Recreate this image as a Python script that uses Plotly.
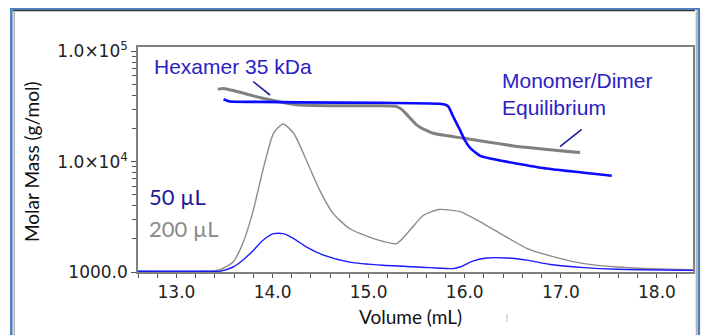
import plotly.graph_objects as go

# ---------------- data ----------------
# Molar mass, 200 uL injection (grey)
mm200_vol = [13.43, 13.49, 13.59, 13.80, 13.97, 14.11, 14.28, 14.80, 15.12, 15.29,
             15.35, 15.40, 15.50, 15.60, 15.67, 15.99, 16.51, 17.20]
mm200_val = [45500, 46100, 44200, 39500, 36400, 34400, 32700, 32100, 32100, 31600,
             29500, 26600, 21600, 19200, 18100, 16300, 13900, 12100]

# Molar mass, 50 uL injection (blue)
mm50_vol = [13.49, 13.56, 13.87, 14.28, 15.12, 15.74, 15.80, 15.83, 15.88, 15.95, 16.00,
            16.06, 16.16, 16.33, 16.85, 17.53]
mm50_val = [36900, 35100, 34900, 34500, 34200, 33500, 32800, 31600, 25600, 19400, 15700,
            13200, 11300, 10400, 8670, 7460]

# Concentration trace (scaled), 200 uL (grey)
c200_vol = [12.60, 13.31, 13.45, 13.59, 13.69, 13.80, 13.90, 14.01, 14.11, 14.22,
            14.35, 14.49, 14.63, 14.80, 15.05, 15.29, 15.43, 15.57, 15.73, 15.85,
            15.96, 16.13, 16.37, 16.65, 16.96, 17.24, 17.58, 17.93, 18.38]
c200_val = [1015, 1015, 1050, 1233, 1810, 3640, 8410, 18100, 22000, 18100,
            10400, 5530, 3400, 2480, 2010, 1810, 2400, 3270, 3690, 3640,
            3510, 2950, 2230, 1630, 1350, 1190, 1110, 1074, 1050]

# Concentration trace (scaled), 50 uL (blue)
c50_vol = [12.60, 13.31, 13.45, 13.59, 13.69, 13.80, 13.90, 14.01, 14.11, 14.22,
           14.35, 14.53, 14.80, 15.15, 15.64, 15.88, 15.95, 16.09, 16.23, 16.44,
           16.65, 16.89, 17.24, 17.58, 18.38]
c50_val = [1015, 1015, 1015, 1110, 1280, 1570, 1940, 2230, 2230, 2010,
           1690, 1420, 1230, 1150, 1096, 1074, 1110, 1260, 1340, 1340,
           1280, 1170, 1096, 1059, 1035]

y_tickvals = [1000, 10000, 100000]
y_ticktext = ["1000.0", "1.0×10<sup>4</sup>", "1.0×10<sup>5</sup>"]
y_minor = [m * 10 ** e for e in (3, 4) for m in range(2, 10)]

# ---------------- layout helpers (pixel -> paper) ----------------
W, H = 701, 335
L, R, T, B = 138, 8, 47, 63
PW, PH = W - L - R, H - T - B


def px(x):
    return (x - L) / PW


def py(y):
    return (T + PH - y) / PH


BLUE = "#1a1aff"
GREY = "#808080"
fig = go.Figure()

fig.add_trace(go.Scatter(x=c200_vol, y=c200_val, mode="lines",
                         line=dict(color="#8c8c8c", width=1.4, shape="spline", smoothing=0.6),
                         hoverinfo="skip"))
fig.add_trace(go.Scatter(x=c50_vol, y=c50_val, mode="lines",
                         line=dict(color=BLUE, width=1.4, shape="spline", smoothing=0.6),
                         hoverinfo="skip"))
fig.add_trace(go.Scatter(x=mm200_vol, y=mm200_val, mode="lines",
                         line=dict(color=GREY, width=3, shape="spline", smoothing=0.5),
                         hoverinfo="skip"))
fig.add_trace(go.Scatter(x=mm50_vol, y=mm50_val, mode="lines",
                         line=dict(color="#0a0aff", width=2.6, shape="spline", smoothing=0.4),
                         hoverinfo="skip"))

tickfont = dict(family="DejaVu Sans", size=17, color="#222222")

fig.update_layout(
    width=W, height=H,
    margin=dict(l=L, r=R, t=T, b=B, pad=0, autoexpand=False),
    paper_bgcolor="white", plot_bgcolor="white",
    showlegend=False,
    xaxis=dict(range=[12.6, 18.375], tick0=13, dtick=1, tickformat=".1f",
               ticks="outside", ticklen=4, tickcolor="#555", tickwidth=1,
               showline=True, linecolor="#808080", linewidth=1.5, mirror=True,
               showgrid=False, zeroline=False, tickfont=tickfont,
               minor=dict(dtick=0.2, ticks="outside", ticklen=4, tickcolor="#555")),
    yaxis=dict(type="log", range=[3, 5.04], tickmode="array",
               tickvals=y_tickvals, ticktext=y_ticktext,
               ticks="outside", ticklen=5, tickcolor="#555", tickwidth=1,
               showline=True, linecolor="#808080", linewidth=1.5, mirror=True,
               showgrid=False, zeroline=False, tickfont=tickfont,
               minor=dict(tickmode="array", tickvals=y_minor, ticks="outside",
                          ticklen=4, tickcolor="#555")),
)

ann_blue = "#2b21c4"
anns = [
    dict(text="Hexamer 35 kDa", x=px(152), y=py(66.5), xanchor="left", yanchor="middle",
         font=dict(family="Liberation Sans", size=21, color=ann_blue)),
    dict(text="Monomer/Dimer<br>Equilibrium", x=px(500), y=py(94), xanchor="left",
         yanchor="middle", align="left",
         font=dict(family="Liberation Sans", size=21, color=ann_blue)),
    dict(text="50 µL", x=px(147), y=py(196), xanchor="left", yanchor="middle",
         font=dict(family="Lato", size=22, color="#1a1a99")),
    dict(text="200 µL", x=px(147), y=py(228.5), xanchor="left", yanchor="middle",
         font=dict(family="Lato", size=22, color="#8a8a8a")),
    dict(text="Volume (mL)", x=px(410.5), y=py(316.5), xanchor="center", yanchor="middle",
         font=dict(family="Lato", size=19, color="#111111")),
    dict(text="Molar Mass (g/mol)", x=px(31), y=py(162), xanchor="center", yanchor="middle",
         textangle=-90, font=dict(family="Lato", size=19, color="#111111")),
]
for a in anns:
    a.update(xref="paper", yref="paper", showarrow=False)
fig.update_layout(annotations=anns)


def seg(x0, y0, x1, y1, color, width):
    return dict(type="line", xref="paper", yref="paper",
                x0=px(x0), y0=py(y0), x1=px(x1), y1=py(y1),
                line=dict(color=color, width=width), layer="above")


shapes = [
    # pointer lines
    seg(253.3, 81.7, 270, 95, "#1f1f9f", 1.6),
    seg(581.7, 129.3, 560, 146.7, "#1f1f9f", 1.6),
    # outer frame
    seg(11.3, 8, 11.3, 335, "#4f81bd", 2.6),
    seg(10, 9, 700, 9, "#4f81bd", 2.2),
    seg(698.8, 8, 698.8, 335, "#4f81bd", 2.6),
    seg(13, 10.6, 695, 10.6, "#333333", 1.2),
    seg(14.2, 11, 14.2, 335, "#aaaaaa", 1.4),
    seg(696.3, 11, 696.3, 335, "#aaaaaa", 1.2),
    # small stray mark below axis
    seg(507, 314, 507, 322, "#bbbbbb", 1),
]
fig.update_layout(shapes=shapes)

fig.write_html("out.html")
